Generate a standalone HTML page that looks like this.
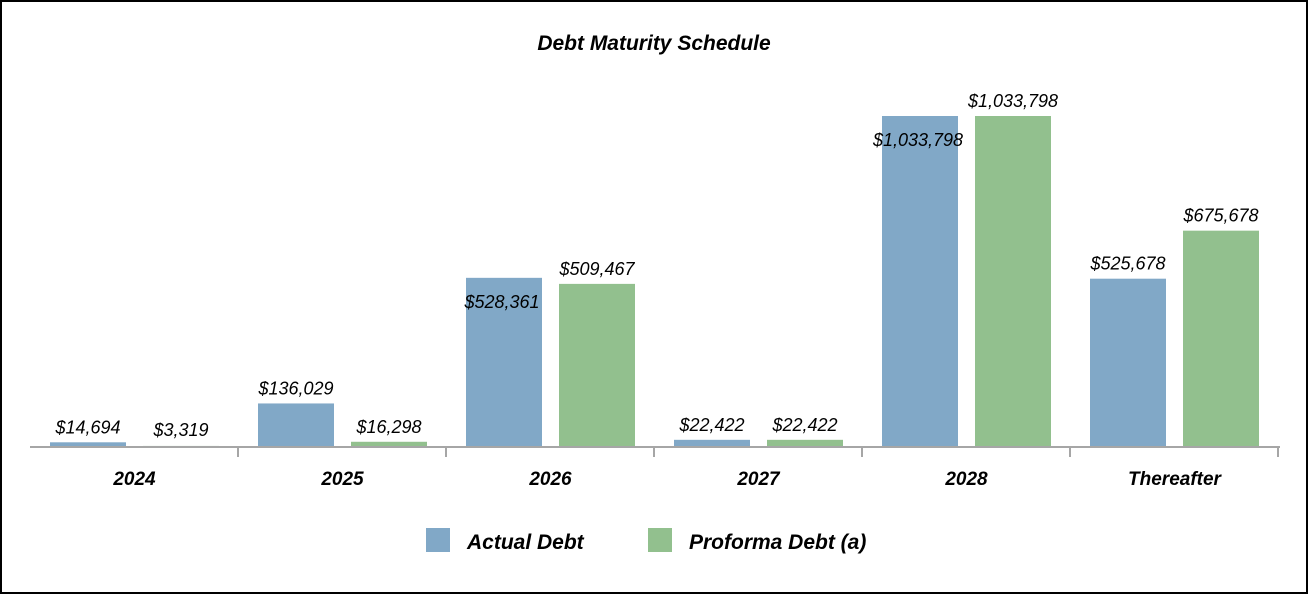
<!DOCTYPE html>
<html><head><meta charset="utf-8"><style>
html,body{margin:0;padding:0;background:#fff}
svg{display:block}
text{font-family:"Liberation Sans",Arial,sans-serif;font-style:italic}
</style></head><body>
<svg id="chart" width="1308" height="594">
<rect x="1" y="1" width="1306" height="592" fill="#fff" stroke="#000" stroke-width="2"/>
<text x="654" y="50" text-anchor="middle" font-size="21" font-weight="bold">Debt Maturity Schedule</text>
<g id="bars"></g>
<line x1="30" y1="447" x2="1280" y2="447" stroke="#a6a6a6" stroke-width="2"/>
<g id="xaxis"></g>
<g>
<rect x="426" y="528" width="24" height="24" fill="#81a8c7"/>
<text x="467" y="549" font-size="21" font-weight="bold">Actual Debt</text>
<rect x="648" y="528" width="24" height="24" fill="#92c08e"/>
<text x="689" y="549" font-size="21" font-weight="bold">Proforma Debt (a)</text>
</g>
</svg>
<script>
const categories = ["2024","2025","2026","2027","2028","Thereafter"];
const actualDebt = [14694,136029,528361,22422,1033798,525678];
const proformaDebt = [3319,16298,509467,22422,1033798,675678];
const actualLabelInside = [false,false,true,false,true,false];

const NS="http://www.w3.org/2000/svg";
const baseY=447, plotLeft=30, groupW=208, barW=76;
const yScale=v=>baseY - v*(331/1033798);
const groupStart=i=>plotLeft+20+i*groupW;
const fmt=v=>"$"+v.toLocaleString("en-US");
const bars=document.getElementById("bars"), xaxis=document.getElementById("xaxis");
function mk(tag,attrs,parent){const e=document.createElementNS(NS,tag);for(const k in attrs)e.setAttribute(k,attrs[k]);parent.appendChild(e);return e;}
categories.forEach((c,i)=>{
  const x0=groupStart(i);
  [[actualDebt,"#81a8c7",0,"actual"],[proformaDebt,"#92c08e",93,"proforma"]].forEach(([arr,col,off,nm])=>{
    const v=arr[i], x=x0+off, y=yScale(v);
    const r=mk("rect",{x:x,y:y,width:barW,height:baseY-y,fill:col},bars);
    
    
    const inside = nm==="actual" && actualLabelInside[i];
    const ty = inside ? y+30 : Math.min(y,baseY-2)-9;
    const t=mk("text",{x:x+barW/2-(inside?2:0),y:ty,"text-anchor":"middle","font-size":"18"},bars);
    t.textContent=fmt(v);
    
    
  });
  const cx=x0+(93+barW)/2;
  const tk=mk("line",{x1:plotLeft+i*groupW+groupW,y1:baseY,x2:plotLeft+i*groupW+groupW,y2:baseY+10,stroke:"#a6a6a6","stroke-width":2},xaxis);
  
  
  const lb=mk("text",{x:cx,y:485,"text-anchor":"middle","font-size":"19","font-weight":"bold"},xaxis);
  lb.textContent=c;
  
  
});
</script>
</body></html>
